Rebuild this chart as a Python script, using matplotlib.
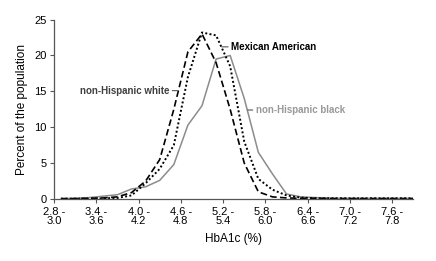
import numpy as np
import matplotlib.pyplot as plt

plt.rcParams["font.family"] = ["Liberation Sans", "DejaVu Sans"]
plt.rcParams["font.size"] = 8

# HbA1c bins (0.2 wide) and tick labels every third bin
bin_starts = [2.8 + 0.2 * i for i in range(26)]
tick_labels = ["2.8 -\n3.0", "3.4 -\n3.6", "4.0 -\n4.2", "4.6 -\n4.8", "5.2 -\n5.4",
               "5.8 -\n6.0", "6.4 -\n6.6", "7.0 -\n7.2", "7.6 -\n7.8"]

# percent of population in each bin
nh_white = [0.05, 0.05, 0.1, 0.15, 0.3, 0.9, 2.5, 5.5, 12.5, 20.5, 23.0, 19.0, 12.5,
            5.0, 1.0, 0.3, 0.15, 0.1, 0.1, 0.05, 0.05, 0.05, 0.05, 0.05, 0.05, 0.05]
mex_amer = [0.05, 0.05, 0.05, 0.1, 0.15, 0.5, 2.2, 4.2, 7.5, 17.0, 23.2, 22.8, 18.5,
            8.0, 2.8, 1.3, 0.5, 0.2, 0.1, 0.1, 0.1, 0.1, 0.1, 0.1, 0.1, 0.1]
nh_black = [0.05, 0.1, 0.2, 0.4, 0.6, 1.4, 1.7, 2.6, 4.8, 10.3, 13.0, 19.5, 20.0,
            14.0, 6.5, 3.5, 0.7, 0.3, 0.2, 0.15, 0.1, 0.1, 0.1, 0.1, 0.1, 0.1]

x = np.arange(len(bin_starts)) + 0.5

fig = plt.figure(figsize=(4.36, 2.61), dpi=100)
ax = fig.add_axes([0.124, 0.2375, 0.824, 0.6875])

ax.plot(x, nh_black, color='#8c8c8c', lw=1.1)
ax.plot(x, nh_white, color='black', lw=1.2, linestyle=(0, (4, 2)))
ax.plot(x, mex_amer, color='black', lw=1.4, linestyle=(0, (1, 1.2)))

ax.set_xlim(0, 25.5)
ax.set_ylim(0, 25)
ax.set_xticks(np.arange(0, 25, 3))
ax.set_xticklabels(tick_labels, linespacing=0.95)
ax.set_yticks([0, 5, 10, 15, 20, 25])
ax.spines[['right', 'top']].set_visible(False)
for s in ['left', 'bottom']:
    ax.spines[s].set_color('#555555')
    ax.spines[s].set_linewidth(0.9)
ax.tick_params(direction='out', length=3, width=0.8, color='#555555', pad=2.5)

ax.set_xlabel("HbA1c (%)", fontsize=8.5, labelpad=5)
ax.set_ylabel("Percent of the population", fontsize=8.5, labelpad=4)

arrow = dict(arrowstyle='-', color='#555555', lw=0.8, shrinkA=0, shrinkB=0)
ax.annotate("non-Hispanic white", xy=(8.75, 15.1), xytext=(8.2, 15.1),
            ha='right', va='center', fontsize=7, fontweight='bold', color='#404040',
            arrowprops=dict(arrow, relpos=(1, 0.5)))
ax.annotate("Mexican American", xy=(11.9, 21.2), xytext=(12.55, 21.2),
            ha='left', va='center', fontsize=7, fontweight='bold', color='black',
            arrowprops=dict(arrow, relpos=(0, 0.5)))
ax.annotate("non-Hispanic black", xy=(13.75, 12.4), xytext=(14.3, 12.4),
            ha='left', va='center', fontsize=7, fontweight='bold', color='#999999',
            arrowprops=dict(arrow, relpos=(0, 0.5)))

fig.savefig("out.png", dpi=100)
